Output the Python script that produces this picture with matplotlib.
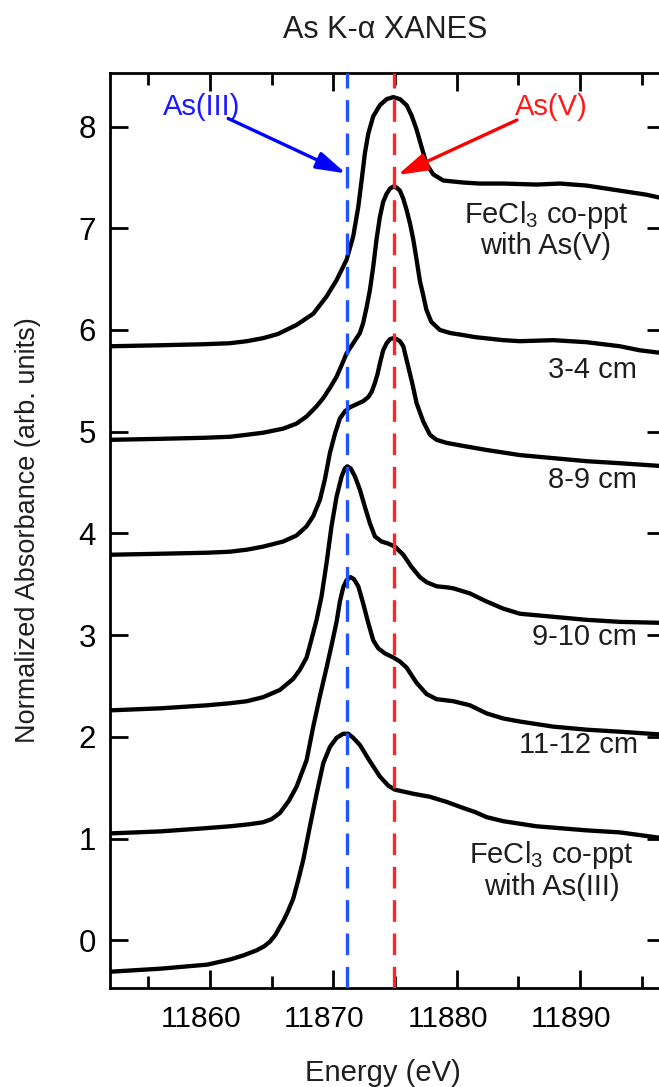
import matplotlib
matplotlib.use("Agg")
import matplotlib.pyplot as plt
from matplotlib.ticker import MultipleLocator, NullLocator
from matplotlib.transforms import ScaledTranslation

plt.rcParams["font.family"] = ["Liberation Sans", "DejaVu Sans"]
plt.rcParams["mathtext.fontset"] = "custom"
plt.rcParams["mathtext.rm"] = "Liberation Sans"
plt.rcParams["mathtext.it"] = "Liberation Sans"
plt.rcParams["mathtext.bf"] = "Liberation Sans"

# ---- spectra (energy in eV, stacked normalized absorbance) ----
e_asv_ref = [11851.9, 11856.0, 11859.5, 11861.62, 11863.0, 11864.32, 11865.5, 11867.03,
             11868.38, 11869.46, 11870.27, 11871.08, 11871.62, 11872.03, 11872.30, 11872.57,
             11872.84, 11873.24, 11873.78, 11874.33, 11874.87, 11875.41, 11875.95, 11876.35,
             11876.76, 11877.16, 11877.57, 11878.11, 11878.92, 11880.54, 11881.89, 11883.79,
             11886.49, 11888.38, 11890.55, 11892.17, 11893.79, 11895.41, 11896.9]
mu_asv_ref = [5.84, 5.85, 5.86, 5.87, 5.89, 5.92, 5.96, 6.05,
              6.16, 6.33, 6.49, 6.69, 6.92, 7.21, 7.47, 7.74,
              7.93, 8.10, 8.21, 8.27, 8.29, 8.27, 8.21, 8.11,
              7.97, 7.80, 7.63, 7.53, 7.47, 7.45, 7.44, 7.44,
              7.43, 7.44, 7.42, 7.39, 7.36, 7.33, 7.29]

e_3_4 = [11851.9, 11856.0, 11859.5, 11861.62, 11863.0, 11864.32, 11865.94, 11867.03,
         11867.84, 11868.65, 11869.19, 11869.73, 11870.27, 11870.70, 11871.08, 11871.62,
         11872.16, 11872.43, 11872.70, 11872.97, 11873.24, 11873.51, 11873.78, 11874.05,
         11874.33, 11874.60, 11874.87, 11875.14, 11875.41, 11875.68, 11875.95, 11876.22,
         11876.49, 11876.76, 11877.03, 11877.30, 11877.55, 11877.95, 11878.65, 11879.50,
         11880.54, 11881.50, 11883.79, 11885.14, 11887.84, 11890.55, 11893.25, 11894.87,
         11896.9]
mu_3_4 = [4.92, 4.93, 4.94, 4.95, 4.97, 4.99, 5.03, 5.08,
          5.15, 5.25, 5.33, 5.43, 5.54, 5.66, 5.77, 5.87,
          5.97, 6.07, 6.22, 6.39, 6.62, 6.89, 7.11, 7.26,
          7.34, 7.39, 7.41, 7.40, 7.37, 7.29, 7.18, 7.05,
          6.89, 6.69, 6.48, 6.34, 6.20, 6.08, 6.00, 5.97,
          5.95, 5.93, 5.90, 5.89, 5.90, 5.88, 5.84, 5.80,
          5.77]

e_8_9 = [11851.9, 11856.0, 11859.8, 11861.62, 11863.0, 11864.32, 11865.94, 11867.03,
         11867.84, 11868.38, 11868.92, 11869.32, 11869.73, 11870.14, 11870.54, 11870.95,
         11871.35, 11871.89, 11872.43, 11872.84, 11873.11, 11873.38, 11873.60, 11873.78,
         11874.05, 11874.33, 11874.60, 11874.87, 11875.14, 11875.41, 11875.68, 11876.00,
         11876.40, 11876.76, 11877.30, 11877.84, 11878.38, 11879.19, 11880.54, 11882.44,
         11885.14, 11887.84, 11890.55, 11893.25, 11896.9]
mu_8_9 = [3.79, 3.80, 3.81, 3.82, 3.84, 3.87, 3.92, 3.98,
          4.07, 4.17, 4.33, 4.53, 4.79, 4.98, 5.13, 5.20,
          5.24, 5.27, 5.30, 5.34, 5.39, 5.48, 5.57, 5.67,
          5.80, 5.87, 5.91, 5.92, 5.91, 5.89, 5.84, 5.68,
          5.48, 5.28, 5.10, 4.97, 4.92, 4.89, 4.86, 4.82,
          4.77, 4.74, 4.71, 4.69, 4.66]

e_9_10 = [11851.9, 11856.0, 11859.8, 11861.62, 11863.0, 11864.32, 11865.67, 11866.76,
          11867.30, 11867.84, 11868.11, 11868.65, 11869.05, 11869.46, 11869.86, 11870.27,
          11870.68, 11870.95, 11871.14, 11871.41, 11871.76, 11872.16, 11872.57, 11872.97,
          11873.38, 11873.92, 11874.46, 11875.00, 11875.68, 11876.35, 11877.03, 11877.57,
          11878.38, 11879.19, 11879.73, 11881.08, 11882.44, 11883.79, 11885.14, 11887.84,
          11890.55, 11893.25, 11896.9]
mu_9_10 = [2.26, 2.28, 2.31, 2.33, 2.35, 2.39, 2.46, 2.57,
           2.66, 2.78, 2.90, 3.15, 3.38, 3.71, 4.07, 4.36,
           4.56, 4.64, 4.66, 4.64, 4.56, 4.43, 4.26, 4.10,
           3.97, 3.92, 3.90, 3.87, 3.79, 3.67, 3.57, 3.52,
           3.48, 3.47, 3.46, 3.41, 3.33, 3.26, 3.21, 3.18,
           3.15, 3.13, 3.12]

e_11_12 = [11851.9, 11856.0, 11859.5, 11861.62, 11863.2, 11864.32, 11865.0, 11865.67,
           11866.40, 11867.03, 11867.84, 11868.38, 11868.92, 11869.46, 11869.90, 11870.27,
           11870.54, 11870.81, 11871.08, 11871.41, 11871.68, 11872.03, 11872.43, 11872.84,
           11873.24, 11873.65, 11874.19, 11874.87, 11875.41, 11875.95, 11876.76, 11877.57,
           11878.38, 11879.73, 11881.08, 11882.44, 11883.79, 11885.14, 11887.84, 11890.55,
           11893.25, 11896.9]
mu_11_12 = [1.05, 1.07, 1.10, 1.12, 1.14, 1.16, 1.19, 1.25,
            1.37, 1.51, 1.77, 2.10, 2.40, 2.68, 2.92, 3.13,
            3.33, 3.47, 3.54, 3.57, 3.55, 3.48, 3.31, 3.12,
            2.95, 2.87, 2.82, 2.78, 2.74, 2.68, 2.53, 2.42,
            2.37, 2.35, 2.31, 2.23, 2.18, 2.15, 2.10, 2.07,
            2.05, 2.02]

e_asiii_ref = [11851.9, 11856.0, 11859.8, 11861.62, 11862.7, 11863.78, 11864.40, 11864.86,
               11865.30, 11865.67, 11866.00, 11866.35, 11866.76, 11867.16, 11867.57, 11868.11,
               11868.65, 11869.19, 11869.73, 11870.27, 11870.81, 11871.22, 11871.62, 11872.16,
               11872.97, 11873.78, 11874.46, 11875.00, 11876.49, 11877.84, 11879.19, 11880.54,
               11881.50, 11882.44, 11883.79, 11886.49, 11890.55, 11893.25, 11896.9]
mu_asiii_ref = [-0.31, -0.28, -0.24, -0.19, -0.15, -0.10, -0.06, -0.015,
                0.05, 0.13, 0.20, 0.29, 0.41, 0.59, 0.79, 1.12,
                1.44, 1.74, 1.90, 1.99, 2.03, 2.03, 1.99, 1.92,
                1.76, 1.61, 1.52, 1.48, 1.44, 1.41, 1.36, 1.30,
                1.26, 1.21, 1.17, 1.12, 1.08, 1.06, 1.00]

# white-line reference energies
e_as3 = 11871.1
e_as5 = 11874.9

x_ticks = [11860, 11870, 11880, 11890]
y_ticks = [0, 1, 2, 3, 4, 5, 6, 7, 8]

W, H = 659, 1087
fig = plt.figure(figsize=(W / 100, H / 100), dpi=100)
left, right, top, bottom = 110, 665, 73, 988
ax = fig.add_axes([left / W, (H - bottom) / H, (right - left) / W, (bottom - top) / H])

spectra = [(e_asv_ref, mu_asv_ref), (e_3_4, mu_3_4), (e_8_9, mu_8_9),
           (e_9_10, mu_9_10), (e_11_12, mu_11_12), (e_asiii_ref, mu_asiii_ref)]
for e, mu in spectra:
    ax.plot(e, mu, color="black", lw=3.1, solid_joinstyle="round",
            solid_capstyle="round", zorder=3)

ax.axvline(e_as3, color="#1f55ff", lw=2.4, dashes=(6.5, 3.5), zorder=4)
ax.axvline(e_as5, color="#ff2525", lw=2.4, dashes=(6.5, 3.5), zorder=4)

ax.set_xlim(11851.9, 11896.9)
ax.set_ylim(-0.47, 8.527)
ax.set_xticks(x_ticks)
ax.set_yticks(y_ticks)
ax.xaxis.set_minor_locator(MultipleLocator(5))
ax.yaxis.set_minor_locator(NullLocator())
ax.tick_params(which="both", direction="in", top=True, right=True, width=2.0)
ax.tick_params(which="major", length=13)
ax.tick_params(which="minor", length=8.5)
ax.tick_params(axis="x", labelsize=21.5, pad=12)
ax.tick_params(axis="y", labelsize=22.5, pad=10)
for s in ax.spines.values():
    s.set_linewidth(2.0)
shift = ScaledTranslation(-0.09, 0, fig.dpi_scale_trans)
for lab in ax.get_xticklabels():
    lab.set_transform(lab.get_transform() + shift)

# curve labels
lab_kw = dict(fontsize=21, color="#1e1e1e", zorder=5)
ax.text(11887.25, 6.99, "FeCl$_\\mathregular{3}$ co-ppt\nwith As(V)",
        ha="center", va="center", multialignment="center", linespacing=1.05, **lab_kw)
ax.text(11894.63, 5.607, "3-4 cm", ha="right", va="center", **lab_kw)
ax.text(11894.63, 4.525, "8-9 cm", ha="right", va="center", **lab_kw)
ax.text(11894.63, 2.98, "9-10 cm", ha="right", va="center", **lab_kw)
ax.text(11894.7, 1.92, "11-12 cm", ha="right", va="center", **lab_kw)
ax.text(11887.7, 0.69, "FeCl$_\\mathregular{3}$ co-ppt\nwith As(III)",
        ha="center", va="center", multialignment="center", linespacing=1.05, **lab_kw)

# oxidation-state markers
ax.text(11859.32, 8.196, "As(III)", color="#1a1aff", fontsize=21, ha="center", va="center")
ax.text(11887.65, 8.196, "As(V)", color="#ff1a1a", fontsize=21, ha="center", va="center")
arrow_style = "-|>,head_length=0.75,head_width=0.22"
ax.annotate("", xy=(11871.03, 7.54), xytext=(11861.48, 8.08),
            arrowprops=dict(arrowstyle=arrow_style, color="#0000ff",
                            lw=2.4, mutation_scale=24, shrinkA=0, shrinkB=0), zorder=6)
ax.annotate("", xy=(11875.22, 7.524), xytext=(11884.9, 8.065),
            arrowprops=dict(arrowstyle=arrow_style, color="#ff0000",
                            lw=2.4, mutation_scale=24, shrinkA=0, shrinkB=0), zorder=6)

fig.text(385 / W, 1 - 30 / H, "As K-\u03b1 XANES", fontsize=22, ha="center", va="center",
         color="#1e1e1e")
fig.text(383 / W, 1 - 1073 / H, "Energy (eV)", fontsize=21, ha="center", va="center",
         color="#1e1e1e")
fig.text(28 / W, 1 - 530 / H, "Normalized Absorbance (arb. units)", fontsize=19.5,
         rotation=90, ha="center", va="center", color="#1e1e1e")

fig.savefig("out.png", dpi=100)
